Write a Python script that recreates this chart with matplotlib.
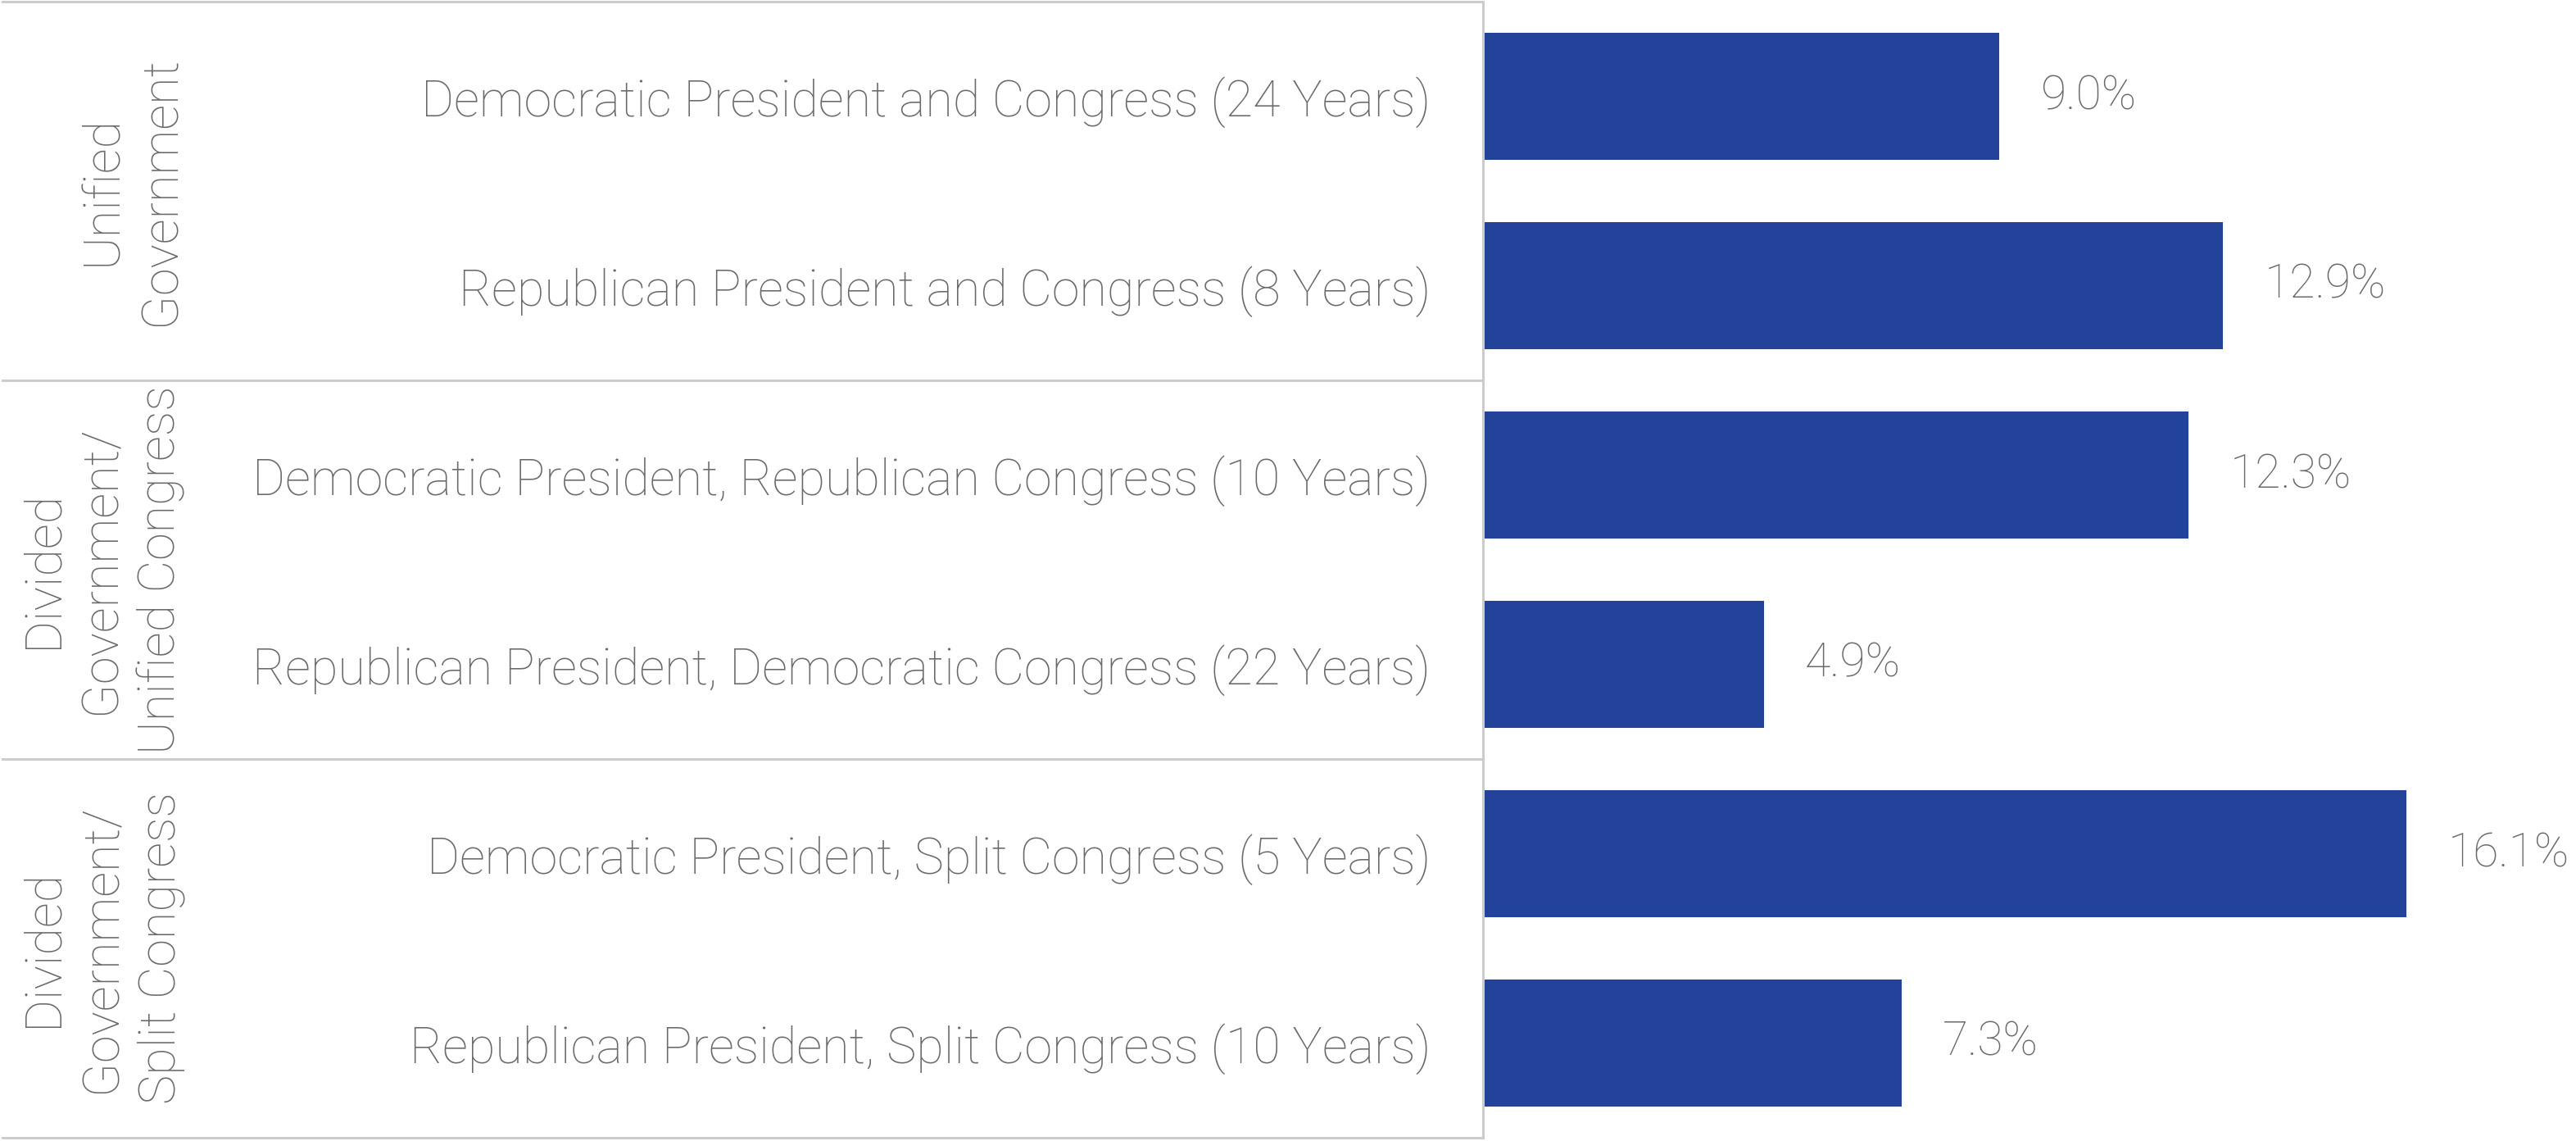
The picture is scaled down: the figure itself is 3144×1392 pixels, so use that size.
import matplotlib
matplotlib.use("Agg")
import matplotlib.pyplot as plt
from matplotlib import transforms
from matplotlib.lines import Line2D

categories = [
    "Democratic President and Congress (24 Years)",
    "Republican President and Congress (8 Years)",
    "Democratic President, Republican Congress (10 Years)",
    "Republican President, Democratic Congress (22 Years)",
    "Democratic President, Split Congress (5 Years)",
    "Republican President, Split Congress (10 Years)",
]
values = [9.0, 12.9, 12.3, 4.9, 16.1, 7.3]
value_labels = ["9.0%", "12.9%", "12.3%", "4.9%", "16.1%", "7.3%"]
groups = ["Unified\nGovernment", "Divided\nGovernment/\nUnified Congress", "Divided\nGovernment/\nSplit Congress"]
group_sizes = [2, 2, 2]

BAR = "#23429A"
TXT = "#6a6a6a"
LINE = "#cccccc"
FONT = ["Roboto", "DejaVu Sans"]
FS = 22
FS_VAL = 20.5
FS_GRP = 22

W, H, DPI = 3144, 1392, 200
fig = plt.figure(figsize=(W / DPI, H / DPI), dpi=DPI)
ax_left = 1810 / W
ax = fig.add_axes([ax_left, 4 / H, 1 - ax_left, 1386 / H])

ypos = list(range(len(categories)))
ax.barh(ypos, values, height=0.675, color=BAR)
ax.set_ylim(len(categories) - 0.5, -0.5)
ax.set_xlim(0, 19.05)
ax.set_yticks(ypos)
ax.set_yticklabels(categories, fontsize=FS, color=TXT, family=FONT, fontweight="light")
ax.tick_params(axis="y", length=0, pad=23)
ax.set_xticks([])
for s in ["top", "right", "bottom"]:
    ax.spines[s].set_visible(False)
ax.spines["left"].set_color(LINE)
ax.spines["left"].set_linewidth(1.1)

for y, v, lab in zip(ypos, values, value_labels):
    ax.annotate(lab, (v, y), xytext=(18, 0), textcoords="offset points",
                ha="left", va="center", fontsize=FS_VAL, color=TXT,
                family=FONT, fontweight="light")

blend = transforms.blended_transform_factory(fig.transFigure, ax.transData)
bounds = [-0.5]
for g in group_sizes:
    bounds.append(bounds[-1] + g)
for b in bounds:
    fig.add_artist(Line2D([3 / W, ax_left], [b, b], transform=blend,
                          color=LINE, lw=1.1, clip_on=False))

for i, g in enumerate(groups):
    mid = (bounds[i] + bounds[i + 1]) / 2
    fig.text(226 / W, mid, g, transform=blend, rotation=90, ha="right", va="center",
             multialignment="center", fontsize=FS_GRP, color=TXT, family=FONT,
             fontweight="light", linespacing=1.3)

fig.savefig("out.png", dpi=DPI, facecolor="white")
